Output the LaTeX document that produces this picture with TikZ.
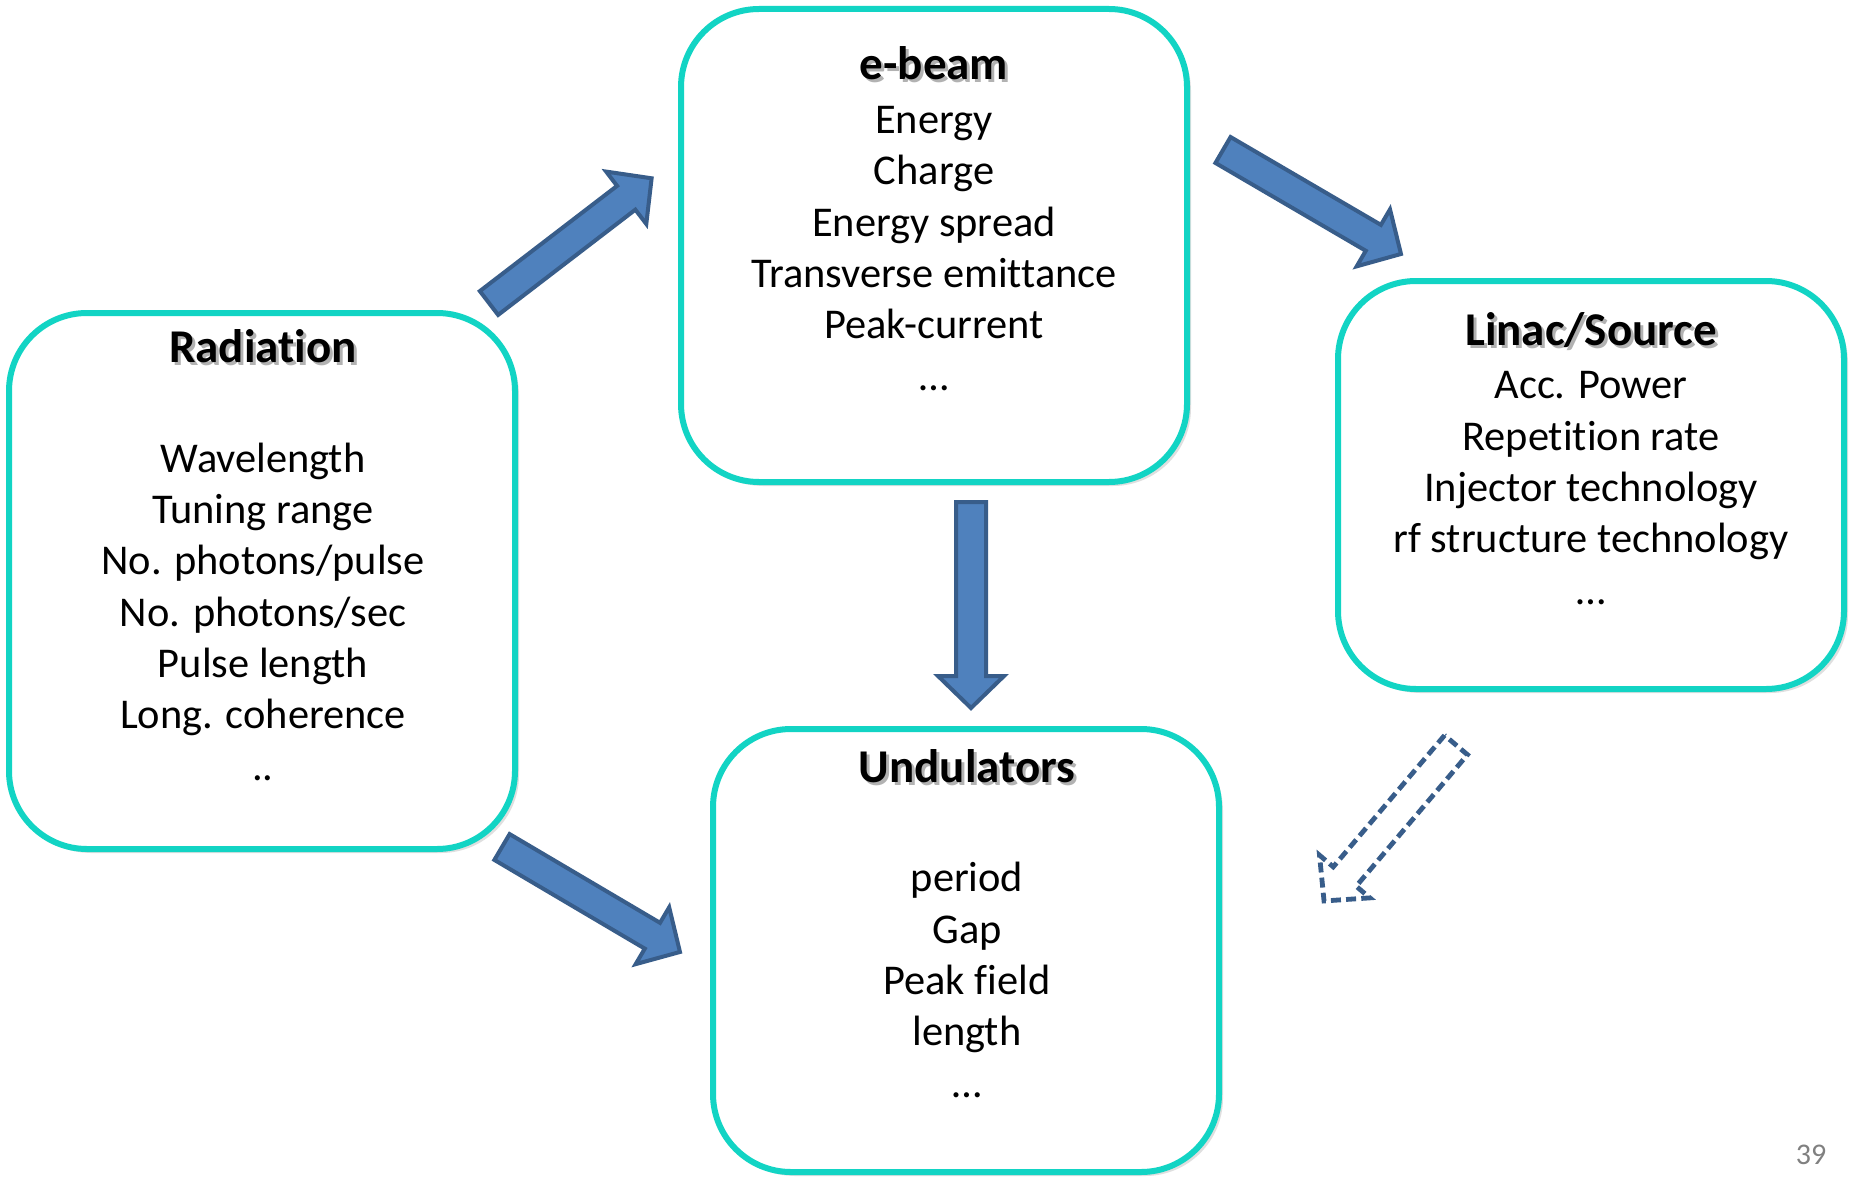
\documentclass[tikz,border=0pt]{standalone}
\usepackage{fontspec}
\setmainfont{Carlito}[Ligatures=NoCommon]
\usetikzlibrary{shadows}
\definecolor{boxline}{RGB}{18,212,196}
\definecolor{arrfill}{RGB}{79,129,189}
\definecolor{arredge}{RGB}{56,93,138}
\definecolor{pagegray}{RGB}{128,128,128}
\newcommand\ttl[1]{\makebox[0pt][l]{\kern1.5pt\raisebox{-1.5pt}{\color{black!30}#1}}#1}
\newcommand\blockarrow[3]{%
  \pgfpointdiff{\pgfpointanchor{#1}{center}}{\pgfpointanchor{#2}{center}}%
  \pgfgetlastxy{\baDX}{\baDY}%
  \pgfmathsetmacro\baAng{atan2(\baDY,\baDX)}%
  \pgfmathsetmacro\baLen{veclen(\baDX,\baDY)}%
  \begin{scope}[shift={(#1)}, rotate=\baAng, x=1pt, y=1pt]
    \draw[#3] (0,-7.5) -- ({\baLen-16},-7.5) -- ({\baLen-16},-16.5) -- (\baLen,0)
      -- ({\baLen-16},16.5) -- ({\baLen-16},7.5) -- (0,7.5) -- cycle;
  \end{scope}}
\tikzset{
  box/.style={draw=boxline, line width=3pt, fill=white, rounded corners=39pt,
    minimum width=253pt, drop shadow={shadow xshift=2pt, shadow yshift=-2pt, opacity=0.25}},
  title/.style={font=\fontsize{23.5}{25.65}\selectfont\bfseries, inner sep=0pt, anchor=base},
  body/.style={font=\fontsize{21.2}{25.65}\selectfont, align=center, inner sep=0pt, anchor=base},
  solidarrow/.style={fill=arrfill, draw=arredge, line width=2pt, line join=miter},
  dasharrow/.style={draw=arredge, line width=2.4pt, dash pattern=on 5pt off 2.6pt},
}
\begin{document}
\begin{tikzpicture}[x=0.5pt, y=-0.5pt]
\useasboundingbox[fill=white] (0,0) rectangle (1856,1182);
% boxes
\node[box, minimum height=268pt] (rad) at (262,581) {};
\node[box, minimum height=236.5pt] (ebeam) at (934,245.5) {};
\node[box, minimum height=204pt] (linac) at (1591,485) {};
\node[box, minimum height=221.5pt] (und) at (966,950.5) {};
% texts (base anchor = baseline of last line)
\node[title] (radt) at (263,362) {\ttl{Radiation}};
\node[body] (radb) at (263,780) {Wavelength\\Tuning range\\No. photons/pulse\\No. photons/sec\\Pulse length\\Long. coherence\\..};
\node[title] (ebeamt) at (934,80) {\ttl{e-beam}};
\node[body] (ebeamb) at (934,390) {Energy\\Charge\\Energy spread\\Transverse emittance\\Peak-current\\…};
\node[title] (linact) at (1591,345) {\ttl{Linac/Source}};
\node[body] (linacb) at (1591,604) {Acc. Power\\Repetition rate\\Injector technology\\rf structure technology\\…};
\node[title] (undt) at (967,782) {\ttl{Undulators}};
\node[body] (undb) at (967,1097) {period\\Gap\\Peak field\\length\\…};
\node[font=\fontsize{15}{17}\selectfont, text=pagegray, inner sep=0pt] (pg) at (1811,1155) {39};
% arrow end points
\coordinate (a1s) at (489,303);
\coordinate (a1e) at (652,178);
\coordinate (a2s) at (1223,150);
\coordinate (a2e) at (1401,254);
\coordinate (a3s) at (971,502);
\coordinate (a3e) at (971,708);
\coordinate (a4s) at (502,847);
\coordinate (a4e) at (680,952);
\coordinate (a5s) at (1456,745);
\coordinate (a5e) at (1324,901);
\blockarrow{a1s}{a1e}{solidarrow}
\blockarrow{a2s}{a2e}{solidarrow}
\blockarrow{a3s}{a3e}{solidarrow}
\blockarrow{a4s}{a4e}{solidarrow}
\blockarrow{a5s}{a5e}{dasharrow}
\end{tikzpicture}
\end{document}
